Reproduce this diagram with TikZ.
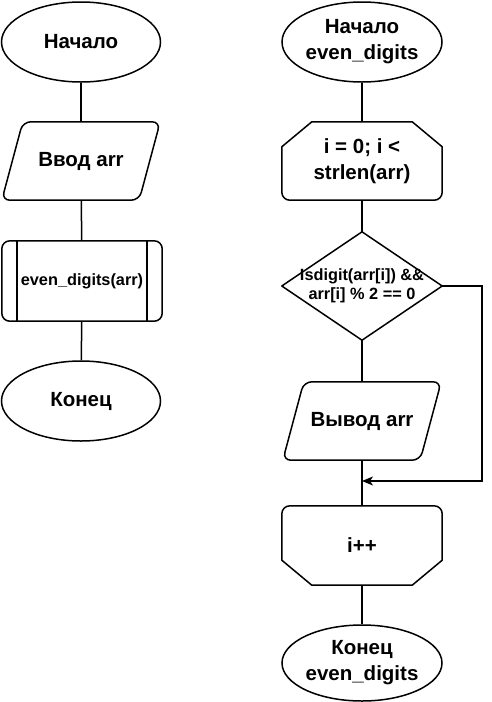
\documentclass[tikz,border=0pt]{standalone}
\usepackage{fontspec}
\setmainfont{Liberation Sans}
\usetikzlibrary{shapes.geometric,arrows.meta}
\begin{document}
\begin{tikzpicture}[x=1pt,y=-1pt,
  every node/.style={font=\bfseries\fontsize{20.5}{26}\selectfont, align=center, inner sep=0pt},
  term/.style={ellipse, draw, line width=1.5pt, minimum width=159pt, minimum height=80pt},
  blk/.style={rectangle, minimum width=#1pt, minimum height=78pt},
  blk/.default=158,
  small/.style={font=\bfseries\fontsize{16.3}{19}\selectfont},
  outl/.style={draw, line width=1.5pt},
  conn/.style={line width=1.5pt},
  arr/.style={line width=1.5pt, -{Stealth[length=11pt,width=9pt,inset=3pt]}}
]
\useasboundingbox (0,0) rectangle (492,702);
% left column
\node[term] (start) at (81,42) {Начало};
\node[blk] (in) at (81,161) {Ввод arr};
\draw[outl, rounded corners=8pt] ([xshift=21pt]in.north west) -- (in.north east) -- ([xshift=-21pt]in.south east) -- (in.south west) -- cycle;
\node[blk=160, minimum height=80pt, small] (sub) at (82,281) {even\_digits(arr)};
\draw[outl, rounded corners=8pt] (sub.north west) rectangle (sub.south east);
\draw[outl] ([xshift=15pt]sub.north west) -- ([xshift=15pt]sub.south west);
\draw[outl] ([xshift=-15pt]sub.north east) -- ([xshift=-15pt]sub.south east);
\node[term] (end) at (81,401) {Конец};
\draw[conn] (start) -- (in);
\draw[conn] (in) -- (sub);
\draw[conn] (sub) -- (end);
% right column
\node[term, minimum width=160pt] (rstart) at (362,42) {Начало\\even\_digits};
\node[blk=160] (loop) at (362,161) {i = 0; i <\\strlen(arr)};
\draw[outl, line join=round] ([xshift=30pt]loop.north west) -- ([xshift=-30pt]loop.north east) -- ([yshift=-25pt]loop.north east)
  [rounded corners=8pt] -- (loop.south east) -- (loop.south west) [sharp corners] -- ([yshift=-25pt]loop.north west) -- cycle;
\node[blk=160, minimum height=108pt, small] (cond) at (362,286) {Isdigit(arr[i]) \&\&\\arr[i] \% 2 == 0};
\draw[outl, line join=round] (cond.north) -- (cond.east) -- (cond.south) -- (cond.west) -- cycle;
\node[blk=158] (out) at (362,421) {Вывод arr};
\draw[outl, rounded corners=8pt] ([xshift=21pt]out.north west) -- (out.north east) -- ([xshift=-21pt]out.south east) -- (out.south west) -- cycle;
\node[blk=160, minimum height=79pt] (inc) at (362,545.5) {i++};
\draw[outl, line join=round] ([xshift=30pt]inc.south west) -- ([xshift=-30pt]inc.south east) -- ([yshift=25pt]inc.south east)
  [rounded corners=8pt] -- (inc.north east) -- (inc.north west) [sharp corners] -- ([yshift=25pt]inc.south west) -- cycle;
\node[term, minimum width=160pt, minimum height=76pt] (rend) at (362,663) {Конец\\even\_digits};
\coordinate (merge) at (362,481);
\draw[conn] (rstart) -- (loop);
\draw[conn] (loop) -- (cond);
\draw[conn] (cond) -- (out);
\draw[conn] (out) -- (inc);
\draw[conn] (inc) -- (rend);
\draw[arr] (cond.east) -- ++(40,0) |- (merge);
\end{tikzpicture}
\end{document}
